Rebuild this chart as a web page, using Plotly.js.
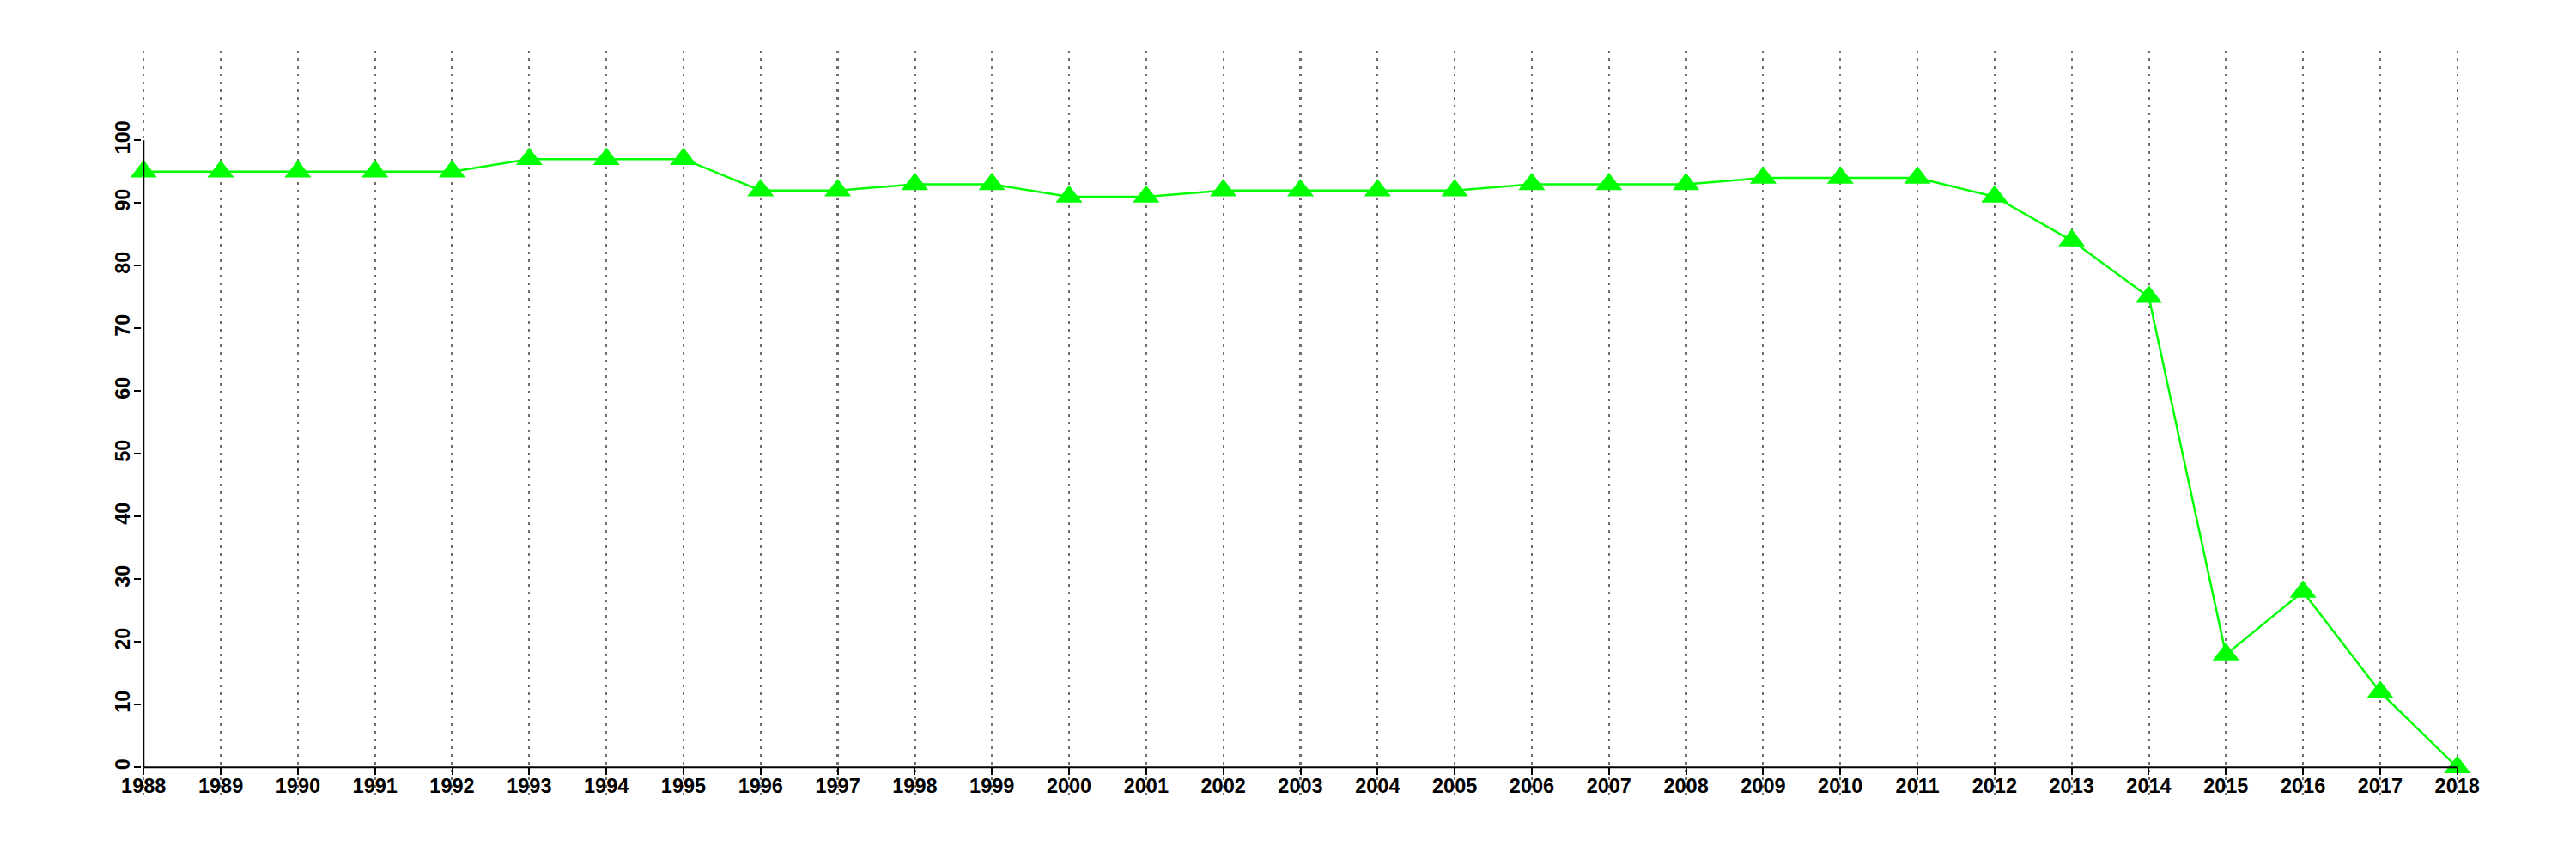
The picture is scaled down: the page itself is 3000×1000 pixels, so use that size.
<!DOCTYPE html>
<html>
<head>
<meta charset="utf-8">
<script src="https://cdn.plot.ly/plotly-3.0.1.min.js"></script>
<style>html,body{margin:0;padding:0;background:#fff;}#chart{width:3000px;height:1000px;}</style>
</head>
<body>
<div id="chart"></div>
<script>
const years = [1988,1989,1990,1991,1992,1993,1994,1995,1996,1997,1998,1999,2000,2001,2002,2003,2004,2005,2006,2007,2008,2009,2010,2011,2012,2013,2014,2015,2016,2017,2018];
const values = [95,95,95,95,95,97,97,97,92,92,93,93,91,91,92,92,92,92,93,93,93,94,94,94,91,84,75,18,28,12,0];
const yTicks = [0,10,20,30,40,50,60,70,80,90,100];

const font = {family: 'Liberation Sans, Arial, sans-serif', size: 23.5, color: '#000', weight: 700};

const trace = {
  x: years, y: values, type: 'scatter', mode: 'lines+markers',
  line: {color: '#00ff00', width: 2.5},
  marker: {symbol: 'triangle-up', size: 27, color: '#00ff00', line: {width: 0}},
  cliponaxis: false, hoverinfo: 'skip'
};

const pad = 0.025;
const layout = {
  width: 3000, height: 1000,
  margin: {l: 165, r: 136, t: 59, b: 73},
  paper_bgcolor: '#fff', plot_bgcolor: '#fff',
  showlegend: false,
  font: font,
  xaxis: {
    range: [years[0] - pad, years[years.length-1] + pad],
    tickvals: years, ticktext: years.map(String),
    anchor: 'free', position: 0.0388,
    showline: false,
    ticks: 'outside', ticklen: 8, tickwidth: 2, tickcolor: '#000',
    ticklabelstandoff: -8,
    showgrid: true, gridcolor: '#6e6e6e', gridwidth: 2.2, griddash: '3px,6px',
    zeroline: false, tickfont: font, tickangle: 0
  },
  yaxis: {
    range: [-4.62, 114.29],
    tickvals: yTicks, ticktext: yTicks.map(String),
    showline: false,
    ticks: 'outside', ticklen: 8, tickwidth: 2, tickcolor: '#000',
    ticklabelstandoff: -4,
    showgrid: false, zeroline: false, tickfont: font, tickangle: -90
  },
  shapes: [
    {type: 'line', xref: 'x', yref: 'y', x0: years[0], x1: years[0], y0: yTicks[0], y1: yTicks[yTicks.length-1],
     line: {color: '#000', width: 2}},
    {type: 'line', xref: 'x', yref: 'y', x0: years[0], x1: years[years.length-1], y0: yTicks[0], y1: yTicks[0],
     line: {color: '#000', width: 2}}
  ]
};

Plotly.newPlot('chart', [trace], layout, {staticPlot: true, displayModeBar: false});
</script>
</body>
</html>
